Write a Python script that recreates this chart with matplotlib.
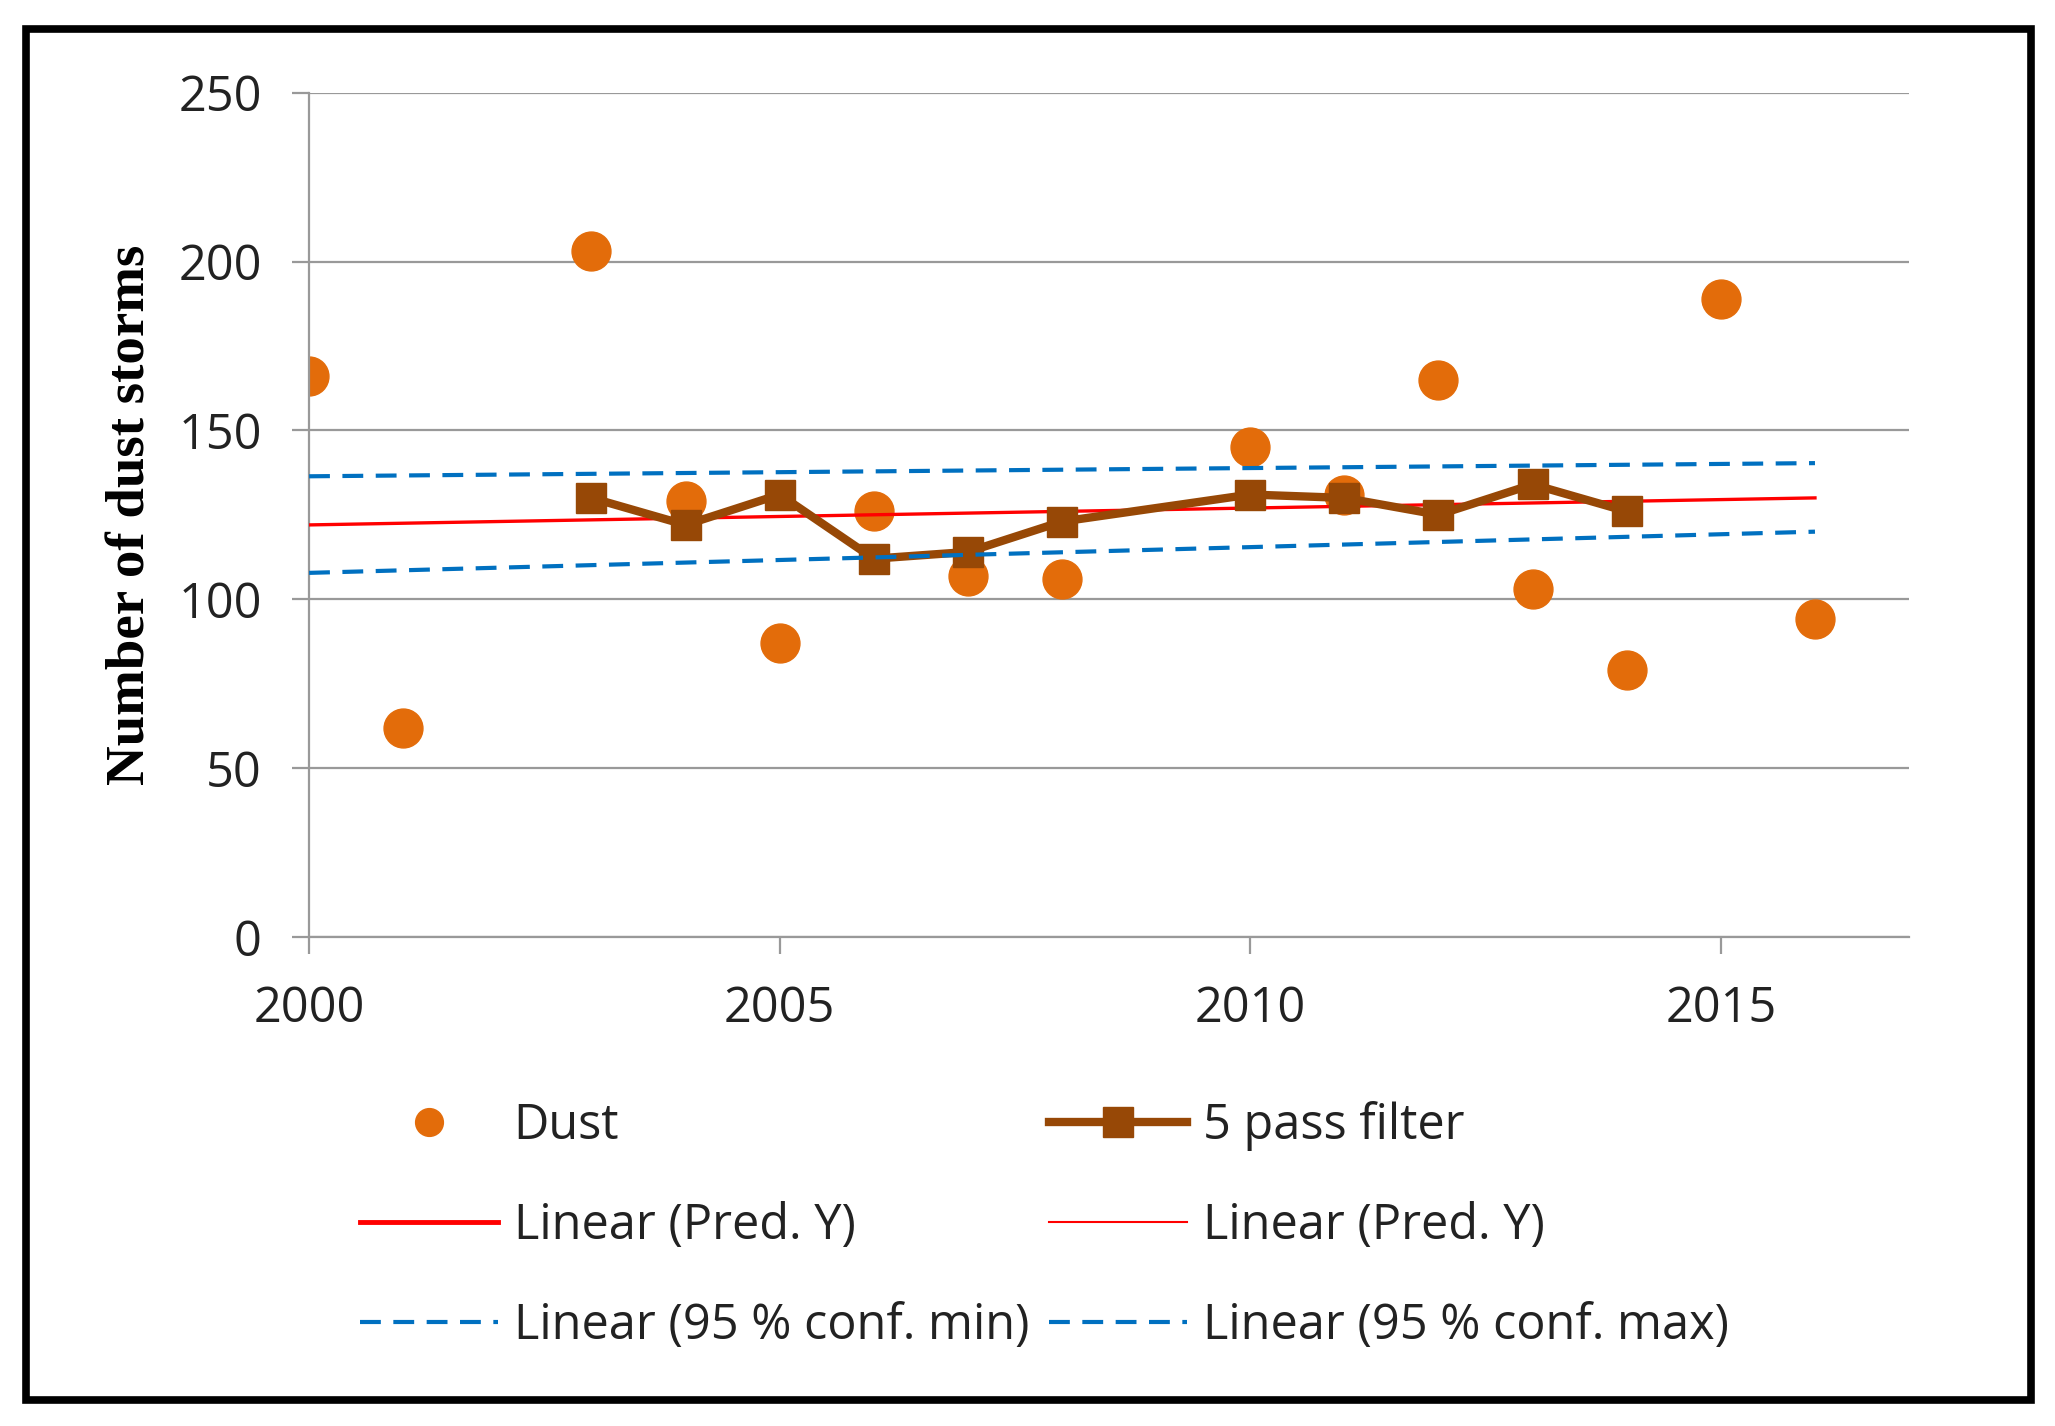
import matplotlib
matplotlib.use("Agg")
import matplotlib.pyplot as plt
from matplotlib.patches import Rectangle

# dust storm counts per year
dust_years = [2000, 2001, 2003, 2004, 2005, 2006, 2007, 2008, 2010, 2011, 2012, 2013, 2014, 2015, 2016]
dust_counts = [166, 62, 203, 129, 87, 126, 107, 106, 145, 131, 165, 103, 79, 189, 94]

# 5 pass filter
filter_years = [2003, 2004, 2005, 2006, 2007, 2008, 2010, 2011, 2012, 2013, 2014]
filter_vals = [130, 122, 131, 112, 114, 123, 131, 130, 125, 134, 126]

# linear trends (end points)
trend_years = [2000, 2016]
pred_y = [122, 130]
conf_min = [107.8, 120]
conf_max = [136.4, 140.3]

orange = "#E36C0A"
brown = "#974806"
red = "#FF0000"
blue = "#0070C0"

plt.rcParams['font.family'] = ['Open Sans', 'DejaVu Sans']

fig = plt.figure(figsize=(20.55, 14.26), dpi=100)
ax = fig.add_axes([0.1504, 0.343, 0.929 - 0.1504, 0.935 - 0.343])

ax.plot(trend_years, pred_y, color=red, lw=2.4, zorder=3)
ax.plot(filter_years, filter_vals, color=brown, lw=6, marker='s', markersize=21, zorder=4)
ax.plot(dust_years, dust_counts, 'o', color=orange, markersize=28, zorder=2)
ax.plot(trend_years, conf_min, color=blue, lw=3, dashes=(5, 3), zorder=5)
ax.plot(trend_years, conf_max, color=blue, lw=3, dashes=(5, 3), zorder=5)

ax.set_xlim(2000, 2017)
ax.set_ylim(0, 250)
ax.set_xticks([2000, 2005, 2010, 2015])
ax.set_yticks([0, 50, 100, 150, 200, 250])
ax.grid(axis='y', color='#999999', lw=1.6)
ax.set_axisbelow(True)
for s in ['top', 'right']:
    ax.spines[s].set_visible(False)
for s in ['left', 'bottom']:
    ax.spines[s].set_color('#999999')
    ax.spines[s].set_linewidth(1.6)
ax.tick_params(axis='both', colors='#999999', width=1.6, length=12, labelsize=35, labelcolor='#222222')
ax.tick_params(axis='x', pad=22)
ax.tick_params(axis='y', pad=22)

fig.text(0.064, 0.639, 'Number of dust storms', rotation=90, ha='center', va='center',
         family='Liberation Serif', fontweight='bold', fontsize=39.5)

# legend handles
h_dust, = ax.plot([], [], 'o', color=orange, markersize=20)
h_filt, = ax.plot([], [], color=brown, lw=6, marker='s', markersize=21)
h_pred1, = ax.plot([], [], color=red, lw=3.5)
h_pred2, = ax.plot([], [], color=red, lw=1.5)
h_min, = ax.plot([], [], color=blue, lw=3, dashes=(5, 3))
h_max, = ax.plot([], [], color=blue, lw=3, dashes=(5, 3))

handles = [h_dust, h_pred1, h_min, h_filt, h_pred2, h_max]
labels = ['Dust', 'Linear (Pred. Y)', 'Linear (95 % conf. min)',
          '5 pass filter', 'Linear (Pred. Y)', 'Linear (95 % conf. max)']
fig.legend(handles, labels, ncol=2, loc='upper left', bbox_to_anchor=(0.175, 0.228),
           frameon=False, fontsize=35, handlelength=2.84, handletextpad=0.33,
           columnspacing=0.4, labelspacing=1.04, borderaxespad=0, borderpad=0,
           labelcolor='#222222')

# outer black frame
fig.patches.append(Rectangle((0.0127, 0.0183), 0.9757, 0.9615, transform=fig.transFigure,
                             fill=False, edgecolor='black', lw=5.5))

fig.savefig('out.png', dpi=100)
